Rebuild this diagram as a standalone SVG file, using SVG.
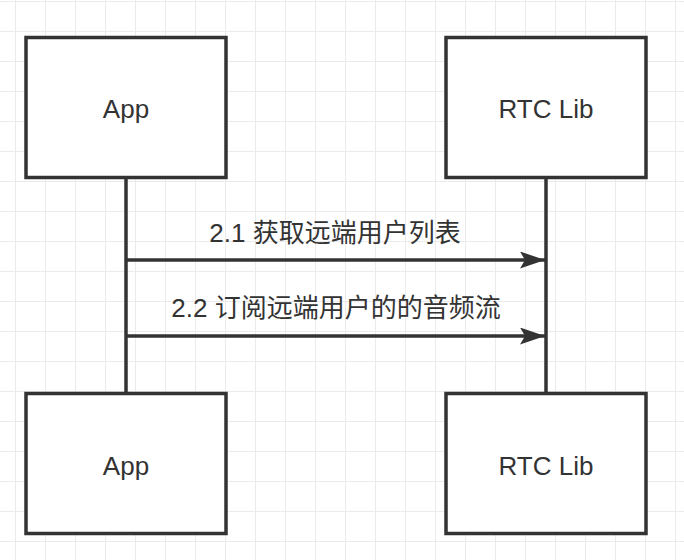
<svg xmlns="http://www.w3.org/2000/svg" width="684" height="560" viewBox="0 0 684 560">
<defs>
<pattern id="grid" x="15" y="1" width="30" height="30" patternUnits="userSpaceOnUse">
<path d="M0.5,0 V30 M0,0.5 H30" fill="none" stroke="#ebebeb" stroke-width="1"/>
</pattern>
<marker id="arrow" markerUnits="userSpaceOnUse" markerWidth="26" markerHeight="18" refX="25" refY="8.5" orient="auto" viewBox="0 0 26 18">
<path d="M0,0 L25,8.5 L0,17 L5,8.5 Z" fill="#333333"/>
</marker>
<style>
.box{fill:#ffffff;stroke:#333333;stroke-width:3.5}
.lbl{font-family:"Liberation Sans","Noto Sans CJK SC",sans-serif;font-size:26px;fill:#333333;text-anchor:middle}
.life{stroke:#333333;stroke-width:3.5;fill:none}
.msg{stroke:#333333;stroke-width:3.5;fill:none}
</style>
</defs>
<rect width="684" height="560" fill="#ffffff"/>
<rect width="684" height="560" fill="url(#grid)"/>
<g id="connectors">
<line class="life" x1="126" y1="178" x2="126" y2="394"/>
<line class="life" x1="546" y1="178" x2="546" y2="394"/>
<line class="msg" x1="126" y1="260" x2="545" y2="260" marker-end="url(#arrow)"/>
<line class="msg" x1="126" y1="336" x2="545" y2="336" marker-end="url(#arrow)"/>
<text class="lbl" x="335" y="242">2.1 获取远端用户列表</text>
<text class="lbl" x="336" y="317">2.2 订阅远端用户的的音频流</text>
</g>
<g id="app-top">
<rect class="box" x="26" y="37.5" width="200" height="140"/>
<text class="lbl" x="126" y="118">App</text>
</g>
<g id="rtc-top">
<rect class="box" x="446" y="37.5" width="200" height="140"/>
<text class="lbl" x="546" y="118">RTC Lib</text>
</g>
<g id="app-bottom">
<rect class="box" x="26" y="393.5" width="200" height="140"/>
<text class="lbl" x="126" y="475">App</text>
</g>
<g id="rtc-bottom">
<rect class="box" x="446" y="393.5" width="200" height="140"/>
<text class="lbl" x="546" y="475">RTC Lib</text>
</g>
</svg>
